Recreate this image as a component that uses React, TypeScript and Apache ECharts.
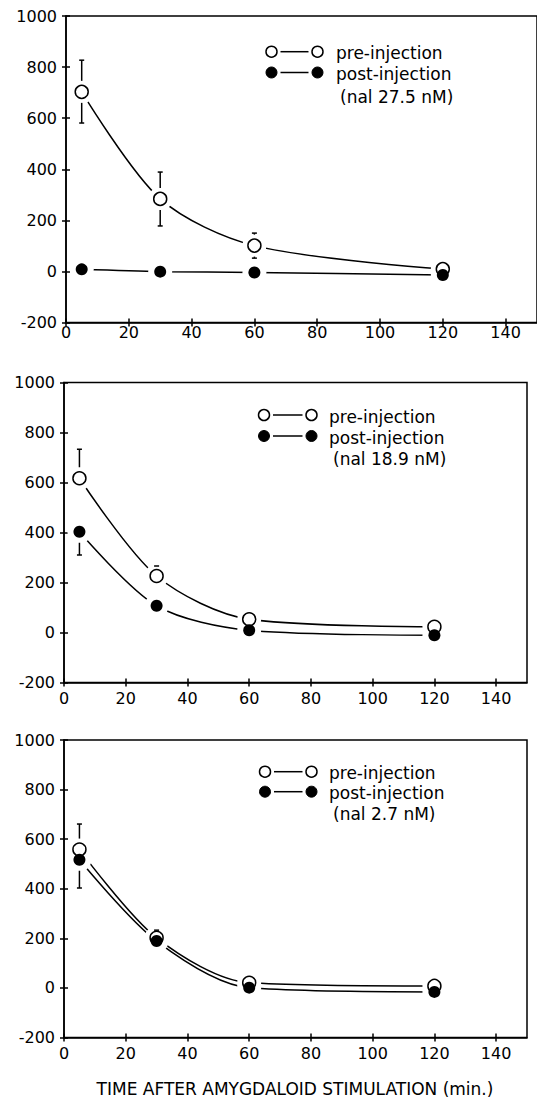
import React, { useEffect, useRef } from "react";
import * as echarts from "echarts";

const times = [5, 30, 60, 120];
const xTicks = [0, 20, 40, 60, 80, 100, 120, 140];

// Panel A (nal 27.5 nM)
const preA = [703, 284, 101, 9];
const postA = [8, -1, -4, -14];
const preAHigh = [827, 389, 150, null];
const preALow = [581, 178, 52, null];
const postAHigh = [null, null, null, null];
const postALow = [null, null, null, null];

// Panel B (nal 18.9 nM)
const preB = [617, 226, 53, 23];
const postB = [403, 107, 9, -11];
const preBHigh = [733, 266, null, null];
const preBLow = [null, null, null, null];
const postBHigh = [null, null, null, null];
const postBLow = [310, null, null, null];

// Panel C (nal 2.7 nM)
const preC = [558, 202, 21, 8];
const postC = [517, 189, 1, -16];
const preCHigh = [661, 233, null, null];
const preCLow = [null, null, null, null];
const postCHigh = [null, null, null, null];
const postCLow = [403, null, null, null];

const legendPre = "pre-injection";
const legendPost = "post-injection";
const doses = ["(nal 27.5 nM)", "(nal 18.9 nM)", "(nal 2.7 nM)"];
const xTitle = "TIME AFTER AMYGDALOID STIMULATION (min.)";

const FONT = "DejaVu Sans";

const panels = [
  { pre: preA, post: postA, preHigh: preAHigh, preLow: preALow, postHigh: postAHigh, postLow: postALow },
  { pre: preB, post: postB, preHigh: preBHigh, preLow: preBLow, postHigh: postBHigh, postLow: postBLow },
  { pre: preC, post: postC, preHigh: preCHigh, preLow: preCLow, postHigh: postCHigh, postLow: postCLow },
];

const grids = [
  { left: 66, top: 16, width: 471, height: 306.5 },
  { left: 64, top: 382.5, width: 463, height: 300 },
  { left: 64, top: 740, width: 463, height: 297.5 },
];
const xLabelMargins = [2, 8, 8];

const legendPos = [
  { c1: 271.5, c2: 317.5, r1: 51.7, r2: 72.5, r3: 96.5, tx: 336 },
  { c1: 264, c2: 311.5, r1: 415, r2: 436, r3: 459, tx: 329 },
  { c1: 265, c2: 311.5, r1: 771.7, r2: 791.7, r3: 814.3, tx: 329 },
];

const errData = (vals: number[], low: (number | null)[], high: (number | null)[]) =>
  times.map((t, i) => [t, vals[i], low[i] ?? vals[i], high[i] ?? vals[i]]);

const errRender = (params: any, api: any) => {
  const x = api.value(0);
  const v = api.value(1);
  const lo = api.value(2);
  const hi = api.value(3);
  const c = api.coord([x, v]);
  const cl = api.coord([x, lo]);
  const ch = api.coord([x, hi]);
  const gap = 11;
  const cap = 2.5;
  const st = { stroke: "#000", lineWidth: 1.5 };
  const children: any[] = [];
  if (hi > v) {
    if (c[1] - gap > ch[1])
      children.push({ type: "line", shape: { x1: c[0], y1: c[1] - gap, x2: c[0], y2: ch[1] }, style: st });
    children.push({ type: "line", shape: { x1: c[0] - cap, y1: ch[1], x2: c[0] + cap, y2: ch[1] }, style: st });
  }
  if (lo < v) {
    if (c[1] + gap < cl[1])
      children.push({ type: "line", shape: { x1: c[0], y1: c[1] + gap, x2: c[0], y2: cl[1] }, style: st });
    children.push({ type: "line", shape: { x1: c[0] - cap, y1: cl[1], x2: c[0] + cap, y2: cl[1] }, style: st });
  }
  return { type: "group", children };
};

export default function App() {
  const ref = useRef<HTMLDivElement>(null);
  useEffect(() => {
    if (!ref.current) return;
    const chart = echarts.init(ref.current, null, { renderer: "svg" });
    const lineStyle = { color: "#000", width: 1.5 };

    const gridList: any[] = [];
    const xAxes: any[] = [];
    const yAxes: any[] = [];
    grids.forEach((g) => {
      gridList.push({ ...g, show: true, borderColor: "#000", borderWidth: 1.5, backgroundColor: "transparent" });
    });
    grids.forEach((g) => {
      gridList.push({ ...g, show: false });
    });
    grids.forEach((g, i) => {
      xAxes.push({
        type: "value",
        gridIndex: i,
        min: 0,
        max: 150,
        interval: 20,
        position: "bottom",
        axisLine: { show: true, onZero: false, lineStyle },
        axisTick: { show: true, length: 4, lineStyle, customValues: xTicks },
        axisLabel: {
          color: "#000",
          fontSize: 16,
          fontFamily: FONT,
          margin: xLabelMargins[i],
          customValues: xTicks,
          formatter: (v: number) => (v > 140 ? "" : String(v)),
        },
        splitLine: { show: false },
      });
      yAxes.push({
        type: "value",
        gridIndex: i,
        min: -200,
        max: 1000,
        interval: 200,
        position: "left",
        axisLine: { show: true, onZero: false, lineStyle },
        axisTick: { show: true, length: 4, lineStyle },
        axisLabel: { color: "#000", fontSize: 16, fontFamily: FONT, margin: 9, formatter: (v: number) => String(v) },
        splitLine: { show: false },
      });
    });
    grids.forEach((g, i) => {
      xAxes.push({
        type: "value",
        gridIndex: i + 3,
        min: 0,
        max: 150,
        interval: 20,
        position: "bottom",
        axisLine: { show: false, onZero: false },
        axisTick: { show: true, inside: true, length: 4, lineStyle, customValues: xTicks },
        axisLabel: { show: false },
        splitLine: { show: false },
      });
      yAxes.push({
        type: "value",
        gridIndex: i + 3,
        min: -200,
        max: 1000,
        interval: 200,
        position: "left",
        axisLine: { show: false, onZero: false },
        axisTick: { show: true, inside: true, length: 4, lineStyle },
        axisLabel: { show: false },
        splitLine: { show: false },
      });
    });

    const series: any[] = [];
    panels.forEach((p, i) => {
      const base = { xAxisIndex: i, yAxisIndex: i };
      const pre = times.map((t, k) => [t, p.pre[k]]);
      const post = times.map((t, k) => [t, p.post[k]]);
      series.push({
        ...base,
        type: "line",
        data: pre,
        smooth: 0.3,
        showSymbol: false,
        symbol: "none",
        lineStyle,
        z: 1,
      });
      series.push({
        ...base,
        type: "line",
        data: post,
        smooth: 0.3,
        showSymbol: false,
        symbol: "none",
        lineStyle,
        z: 1,
      });
      series.push({
        ...base,
        type: "scatter",
        data: pre.concat(post),
        symbol: "circle",
        symbolSize: 24,
        itemStyle: { color: "#fff", opacity: 1 },
        z: 2,
        silent: true,
      });
      series.push({
        ...base,
        type: "custom",
        renderItem: errRender,
        data: errData(p.pre, p.preLow, p.preHigh),
        encode: { x: 0, y: [1, 2, 3] },
        z: 3,
      });
      series.push({
        ...base,
        type: "custom",
        renderItem: errRender,
        data: errData(p.post, p.postLow, p.postHigh),
        encode: { x: 0, y: [1, 2, 3] },
        z: 3,
      });
      series.push({
        ...base,
        type: "scatter",
        data: pre,
        symbol: "circle",
        symbolSize: 13,
        itemStyle: { color: "#fff", borderColor: "#000", borderWidth: 1.5, opacity: 1 },
        z: 4,
      });
      series.push({
        ...base,
        type: "scatter",
        data: post,
        symbol: "circle",
        symbolSize: 12,
        itemStyle: { color: "#000", opacity: 1 },
        z: 4,
      });
    });

    const graphics: any[] = [];
    legendPos.forEach((L, i) => {
      const st = { stroke: "#000", lineWidth: 1.5 };
      graphics.push({ type: "circle", shape: { cx: L.c1, cy: L.r1, r: 5.5 }, style: { fill: "#fff", ...st } });
      graphics.push({ type: "circle", shape: { cx: L.c2, cy: L.r1, r: 5.5 }, style: { fill: "#fff", ...st } });
      graphics.push({ type: "line", shape: { x1: L.c1 + 9, y1: L.r1, x2: L.c2 - 9, y2: L.r1 }, style: st });
      graphics.push({ type: "circle", shape: { cx: L.c1, cy: L.r2, r: 5.5 }, style: { fill: "#000", stroke: "#000" } });
      graphics.push({ type: "circle", shape: { cx: L.c2, cy: L.r2, r: 5.5 }, style: { fill: "#000", stroke: "#000" } });
      graphics.push({ type: "line", shape: { x1: L.c1 + 9, y1: L.r2, x2: L.c2 - 9, y2: L.r2 }, style: st });
      const ts = { fill: "#000", font: `17px "${FONT}"`, textVerticalAlign: "middle" };
      graphics.push({ type: "text", x: L.tx, y: L.r1 + 1.5, style: { text: legendPre, ...ts } });
      graphics.push({ type: "text", x: L.tx, y: L.r2 + 1.5, style: { text: legendPost, ...ts } });
      graphics.push({ type: "text", x: L.tx + 4, y: L.r3, style: { text: doses[i], ...ts } });
    });
    graphics.push({
      type: "text",
      x: 295,
      y: 1089,
      style: {
        text: xTitle,
        fill: "#000",
        font: `17px "${FONT}"`,
        textAlign: "center",
        textVerticalAlign: "middle",
      },
    });

    chart.setOption({
      animation: false,
      backgroundColor: "#fff",
      grid: gridList,
      xAxis: xAxes,
      yAxis: yAxes,
      series,
      graphic: graphics,
    });
    return () => chart.dispose();
  }, []);
  return (
    <div
      ref={ref}
      style={{ position: "absolute", left: 0, top: 0, width: 537, height: 1100, background: "#fff" }}
    />
  );
}
